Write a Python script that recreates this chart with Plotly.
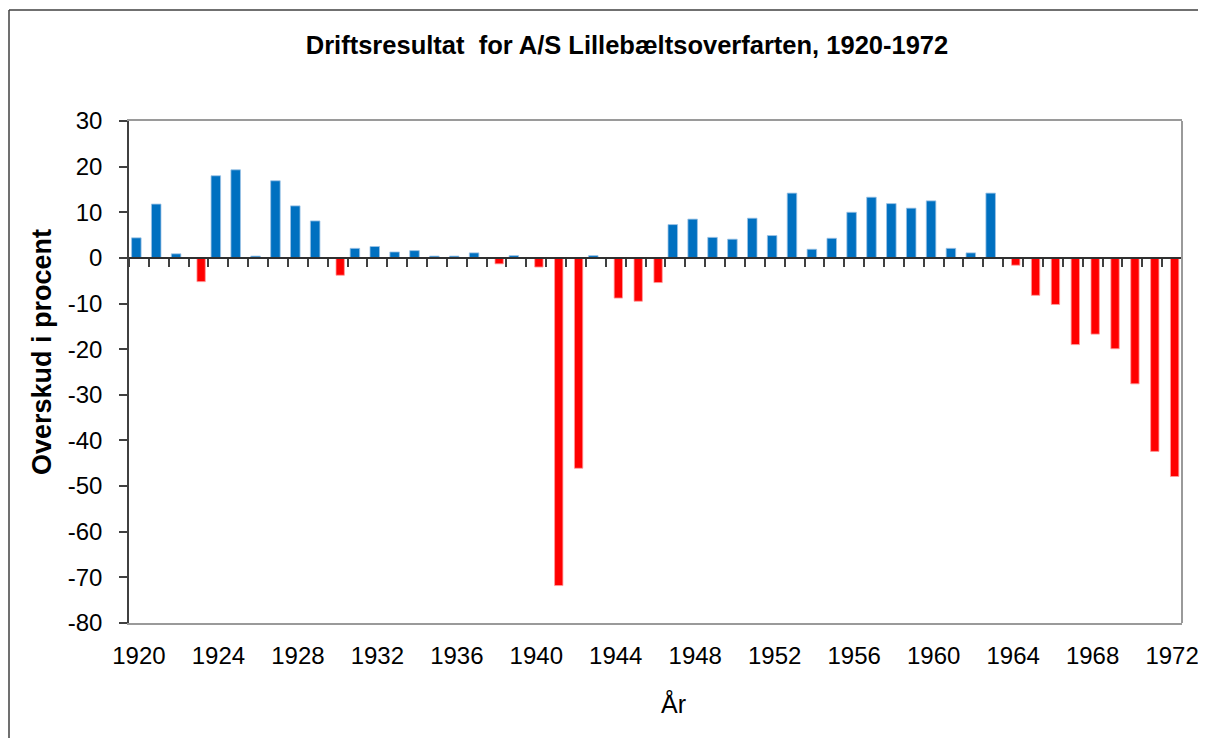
import plotly.graph_objects as go

years = list(range(1920, 1973))
values = [4.4, 11.8, 0.9, -5.2, 18.0, 19.3, 0.4, 16.9, 11.4, 8.1,
          -3.8, 2.1, 2.5, 1.3, 1.6, 0.4, 0.4, 1.1, -1.3, 0.5,
          -2.0, -71.8, -46.1, 0.5, -8.8, -9.5, -5.4, 7.3, 8.5, 4.5,
          4.1, 8.7, 4.9, 14.2, 1.9, 4.3, 10.0, 13.3, 11.9, 10.9,
          12.5, 2.1, 1.1, 14.2, -1.6, -8.2, -10.2, -19.0, -16.7, -19.9,
          -27.6, -42.4, -47.9]
tick_years = years[::4]
y_ticks = list(range(-80, 31, 10))
y_ticktext = [str(v) for v in y_ticks]  # plain hyphen minus like the original

title = "Driftsresultat  for A/S Lillebæltsoverfarten, 1920-1972"
y_title = "Overskud i procent"
x_title = "År"

# page body has an 8px default margin; work in window pixels and subtract it
OFF = 8
WIN_W, WIN_H = 1206, 738
W, H = WIN_W - OFF, WIN_H - OFF
# plot area in window pixels
PX0, PX1, PY0, PY1 = 129, 1182, 121, 623
L, R, T, B = PX0 - OFF, W - (PX1 - OFF), PY0 - OFF, H - (PY1 - OFF)
FONT = "Liberation Sans, Arial, sans-serif"

def px_x(px):
    return (px - PX0) / (PX1 - PX0)

def px_y(py):
    return (PY1 - py) / (PY1 - PY0)

pos_years = [y for y, v in zip(years, values) if v >= 0]
pos_vals = [v for v in values if v >= 0]
neg_years = [y for y, v in zip(years, values) if v < 0]
neg_vals = [v for v in values if v < 0]

fig = go.Figure()
fig.add_trace(go.Bar(x=pos_years, y=pos_vals, width=0.48, offset=-0.37,
                     marker=dict(color="#0070C0", line=dict(color="#9cc3e6", width=0.8)),
                     xaxis="x", yaxis="y", showlegend=False))
fig.add_trace(go.Bar(x=neg_years, y=neg_vals, width=0.42, offset=-0.08,
                     marker=dict(color="#FF0000", line=dict(color="#ff9c9c", width=0.8)),
                     xaxis="x2", yaxis="y", showlegend=False))

yr = [-80, 30]
xr = [years[0] - 0.5, years[-1] + 0.5]
zero_pos = (0 - yr[0]) / (yr[1] - yr[0])

frame_col = "#404040"
fig.update_layout(
    width=W, height=H,
    margin=dict(l=L, r=R, t=T, b=B, autoexpand=False),
    paper_bgcolor="white", plot_bgcolor="white",
    barmode="overlay",
    font=dict(family=FONT, color="black"),
    title=dict(text="<b>" + title + "</b>", x=(627 - OFF) / W, xref="container", xanchor="center",
               y=1 - (45 - OFF) / H, yref="container", yanchor="middle",
               font=dict(size=25.5, family=FONT, color="black")),
    xaxis=dict(range=xr, tickvals=tick_years, ticktext=[str(t) for t in tick_years],
               ticks="", showgrid=False, zeroline=False, automargin=False,
               showline=True, linecolor="#9a9a9a", linewidth=2, mirror=True,
               tickfont=dict(size=24, family=FONT, color="black"),
               ticklabelstandoff=10),
    xaxis2=dict(range=xr, overlaying="x", anchor="free", position=zero_pos,
                tickvals=[y - 0.5 for y in years] + [years[-1] + 0.5],
                showticklabels=False, ticks="outside", ticklen=8, tickwidth=1.5,
                tickcolor="#404040", showgrid=False, zeroline=False, automargin=False,
                showline=True, linecolor="#303030", linewidth=1.5),
    yaxis=dict(range=yr, tickvals=y_ticks, ticktext=y_ticktext,
               ticks="outside", ticklen=8, tickwidth=1.5,
               tickcolor="#404040", showgrid=False, zeroline=False, automargin=False,
               showline=True, linecolor="#404040", linewidth=1.5,
               tickfont=dict(size=24, family=FONT, color="black"),
               ticklabelstandoff=12),
    shapes=[
        dict(type="line", xref="paper", yref="paper", x0=1, x1=1, y0=0, y1=1,
             line=dict(color="#9a9a9a", width=2)),
        # outer chart frame: top and left edges (right/bottom lie outside the picture)
        dict(type="line", xref="paper", yref="paper",
             x0=px_x(9), x1=px_x(WIN_W + 40), y0=px_y(10), y1=px_y(10),
             line=dict(color=frame_col, width=1.5), layer="below"),
        dict(type="line", xref="paper", yref="paper",
             x0=px_x(9), x1=px_x(9), y0=px_y(10), y1=px_y(WIN_H + 40),
             line=dict(color=frame_col, width=1.5), layer="below"),
    ],
    annotations=[
        dict(text="<b>" + y_title + "</b>", textangle=-90, showarrow=False,
             xref="paper", yref="paper", x=px_x(42), y=px_y(352),
             xanchor="center", yanchor="middle",
             font=dict(size=27, family=FONT, color="black")),
        dict(text=x_title, showarrow=False, xref="paper", yref="paper",
             x=px_x(673), y=px_y(703), xanchor="center", yanchor="middle",
             font=dict(size=25, family=FONT, color="black")),
    ],
)

fig.write_html("out.html")
